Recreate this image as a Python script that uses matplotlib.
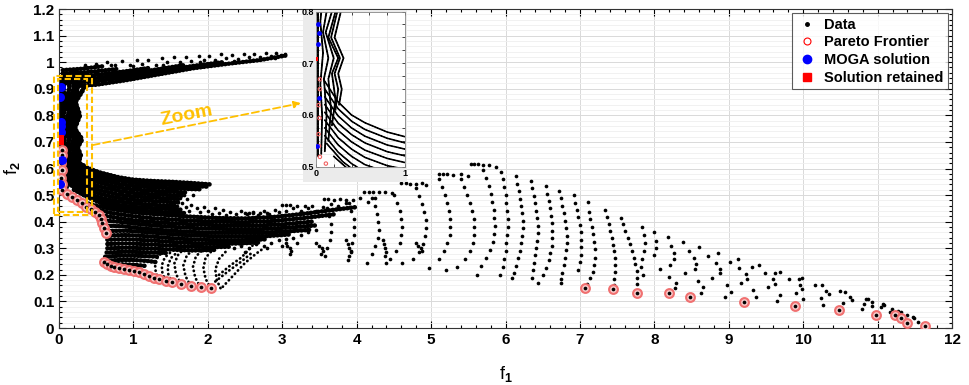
import matplotlib
matplotlib.use('Agg')
import matplotlib.pyplot as plt
from matplotlib.patches import Rectangle
from matplotlib.lines import Line2D
from matplotlib.ticker import MultipleLocator, FuncFormatter

plt.rcParams['font.family'] = ['Liberation Sans', 'DejaVu Sans']
plt.rcParams['font.weight'] = 'bold'
plt.rcParams['mathtext.fontset'] = 'custom'
plt.rcParams['mathtext.rm'] = 'Liberation Sans:bold'
plt.rcParams['mathtext.default'] = 'rm'

ORANGE = '#FFC000'

# ---- dense regions, read as strands of closely packed points (x, y) ----
band_strands = [
    [(0.2, 0.91), (0.5, 0.915), (0.9, 0.932), (1.3, 0.952), (1.8, 0.977), (2.3, 0.995), (2.7, 1.008), (3.05, 1.025)],
    [(0.1, 0.922), (0.5, 0.928), (0.9, 0.944), (1.3, 0.962), (1.8, 0.986), (2.2, 1.0)],
    [(0.05, 0.934), (0.5, 0.94), (0.9, 0.955), (1.3, 0.972), (1.7, 0.99)],
    [(0.05, 0.946), (0.5, 0.952), (0.9, 0.966), (1.2, 0.978)],
    [(0.05, 0.958), (0.4, 0.963), (0.8, 0.975)],
    [(0.05, 0.97), (0.3, 0.975), (0.6, 0.985)],
]
band_specks = [(0.35, 0.99), (0.5, 0.995), (0.65, 1.0), (0.75, 0.99), (0.85, 1.003), (0.95, 0.99),
               (1.05, 1.008), (1.12, 0.995), (1.2, 1.01), (1.3, 0.99), (1.38, 1.015), (1.45, 1.0),
               (1.55, 1.018), (1.62, 1.0), (1.7, 1.02), (1.78, 1.005), (1.88, 1.022), (1.95, 1.008),
               (2.02, 1.025), (2.1, 1.01), (2.18, 1.03), (2.25, 1.015), (2.33, 1.028), (2.4, 1.012),
               (2.48, 1.03), (2.55, 1.018), (2.62, 1.032), (2.7, 1.02), (2.78, 1.033), (2.85, 1.022),
               (2.92, 1.035), (2.98, 1.028), (3.03, 1.032), (1.0, 0.985), (1.4, 0.99), (1.9, 1.0),
               (2.35, 1.005), (2.6, 1.01), (2.9, 1.015), (0.7, 0.99)]

column_strands = [
    [(0.02, 0.52), (0.02, 0.95)],
    [(0.06, 0.525), (0.07, 0.6), (0.05, 0.66), (0.08, 0.72), (0.05, 0.78), (0.08, 0.84), (0.06, 0.9), (0.08, 0.95)],
    [(0.1, 0.53), (0.12, 0.6), (0.09, 0.67), (0.14, 0.71), (0.08, 0.76), (0.13, 0.81), (0.09, 0.86), (0.14, 0.9), (0.14, 0.94)],
    [(0.14, 0.55), (0.17, 0.61), (0.14, 0.67), (0.2, 0.71), (0.11, 0.76), (0.18, 0.8), (0.13, 0.86), (0.2, 0.9), (0.2, 0.93)],
    [(0.18, 0.58), (0.22, 0.63), (0.18, 0.68), (0.25, 0.71), (0.14, 0.75), (0.22, 0.8), (0.16, 0.86), (0.25, 0.9), (0.27, 0.92)],
    [(0.22, 0.61), (0.25, 0.65), (0.21, 0.68), (0.27, 0.71), (0.17, 0.75), (0.24, 0.8), (0.18, 0.85), (0.27, 0.89)],
    [(0.26, 0.62), (0.29, 0.65), (0.25, 0.68), (0.31, 0.71), (0.21, 0.75), (0.28, 0.8), (0.22, 0.85), (0.31, 0.89), (0.35, 0.915)],
]

fan_strands = [
    [(0.1, 0.665), (0.25, 0.625), (0.4, 0.6), (0.55, 0.585), (0.8, 0.567), (1.0, 0.558), (1.25, 0.553), (1.5, 0.55), (1.75, 0.546), (2.04, 0.54)],
    [(0.1, 0.65), (0.25, 0.612), (0.4, 0.588), (0.55, 0.572), (0.8, 0.555), (1.0, 0.546), (1.25, 0.541), (1.5, 0.538), (1.75, 0.535), (1.98, 0.532)],
    [(0.1, 0.635), (0.25, 0.598), (0.4, 0.575), (0.55, 0.559), (0.8, 0.542), (1.0, 0.534), (1.25, 0.529), (1.5, 0.526), (1.75, 0.523), (1.9, 0.522)],
    [(0.1, 0.62), (0.25, 0.584), (0.4, 0.562), (0.55, 0.546), (0.8, 0.529), (1.0, 0.521), (1.25, 0.516), (1.5, 0.513), (1.7, 0.51)],
    [(0.1, 0.605), (0.25, 0.57), (0.4, 0.548), (0.55, 0.532), (0.8, 0.516), (1.0, 0.508), (1.25, 0.503), (1.5, 0.5), (1.65, 0.498)],
    [(0.1, 0.59), (0.25, 0.556), (0.4, 0.534), (0.55, 0.518), (0.8, 0.502), (1.0, 0.495), (1.3, 0.49), (1.6, 0.485)],
    [(0.1, 0.575), (0.25, 0.542), (0.4, 0.52), (0.55, 0.504), (0.8, 0.489), (1.0, 0.482), (1.3, 0.477), (1.6, 0.472)],
    [(0.1, 0.56), (0.25, 0.528), (0.4, 0.506), (0.55, 0.49), (0.8, 0.476), (1.0, 0.469), (1.3, 0.463), (1.6, 0.458)],
    [(0.12, 0.545), (0.3, 0.51), (0.45, 0.49), (0.6, 0.476), (0.8, 0.463), (1.0, 0.456), (1.3, 0.45), (1.65, 0.445)],
    [(0.2, 0.52), (0.35, 0.497), (0.5, 0.477), (0.65, 0.462), (0.85, 0.45), (1.1, 0.442), (1.4, 0.436), (1.7, 0.432)],
]

mid_strands = [
    [(0.3, 0.475), (0.5, 0.46), (0.7, 0.448), (1.0, 0.435), (1.3, 0.428), (1.7, 0.42), (2.1, 0.414), (2.5, 0.412), (2.9, 0.418), (3.3, 0.43), (3.7, 0.445), (4.0, 0.455)],
    [(0.45, 0.45), (0.7, 0.433), (1.0, 0.42), (1.3, 0.412), (1.7, 0.405), (2.1, 0.4), (2.5, 0.398), (2.9, 0.403), (3.3, 0.414), (3.7, 0.428)],
    [(0.54, 0.425), (0.75, 0.416), (1.0, 0.405), (1.4, 0.396), (1.8, 0.39), (2.2, 0.386), (2.6, 0.385), (3.0, 0.39), (3.4, 0.4)],
    [(0.58, 0.405), (0.8, 0.4), (1.1, 0.39), (1.5, 0.381), (1.9, 0.375), (2.3, 0.372), (2.7, 0.372), (3.1, 0.378), (3.45, 0.386)],
    [(0.6, 0.385), (0.85, 0.383), (1.1, 0.375), (1.5, 0.366), (1.9, 0.36), (2.3, 0.358), (2.7, 0.358), (3.1, 0.364), (3.4, 0.37)],
    [(0.62, 0.365), (0.9, 0.366), (1.2, 0.36), (1.6, 0.351), (2.0, 0.346), (2.4, 0.344), (2.8, 0.346), (3.1, 0.352)],
    [(0.64, 0.348), (0.9, 0.35), (1.2, 0.345), (1.6, 0.336), (2.0, 0.331), (2.4, 0.33), (2.8, 0.334)],
    [(0.65, 0.332), (0.9, 0.334), (1.2, 0.33), (1.6, 0.322), (2.0, 0.317), (2.4, 0.318), (2.7, 0.322)],
    [(0.65, 0.316), (0.9, 0.318), (1.2, 0.315), (1.6, 0.308), (2.0, 0.304), (2.3, 0.306)],
    [(0.65, 0.3), (0.9, 0.302), (1.2, 0.3), (1.5, 0.295), (1.8, 0.292), (2.1, 0.294)],
    [(0.64, 0.284), (0.9, 0.287), (1.2, 0.285), (1.45, 0.282)],
    [(0.62, 0.268), (0.8, 0.272), (1.0, 0.272), (1.2, 0.27), (1.35, 0.268)],
    [(0.6, 0.252), (0.8, 0.256), (1.0, 0.256), (1.2, 0.252), (1.3, 0.248)],
    [(0.65, 0.24), (0.8, 0.24), (1.0, 0.238), (1.15, 0.234)],
    [(0.7, 0.228), (0.85, 0.226), (1.0, 0.222), (1.1, 0.218)],
]

s_curves = [
    [(1.34, 0.184), (1.3, 0.21), (1.29, 0.24), (1.33, 0.27), (1.42, 0.29)],
    [(1.43, 0.178), (1.39, 0.205), (1.38, 0.235), (1.42, 0.265), (1.52, 0.29)],
    [(1.52, 0.172), (1.47, 0.2), (1.46, 0.23), (1.5, 0.262), (1.6, 0.288)],
    [(1.64, 0.165), (1.57, 0.205), (1.55, 0.243), (1.61, 0.281), (1.75, 0.306)],
    [(1.77, 0.158), (1.7, 0.195), (1.67, 0.235), (1.72, 0.275), (1.85, 0.3)],
    [(1.9, 0.153), (1.83, 0.19), (1.8, 0.23), (1.84, 0.27), (1.95, 0.298)],
    [(2.04, 0.149), (1.97, 0.185), (1.94, 0.225), (1.97, 0.265), (2.07, 0.295)],
    [(2.17, 0.15), (2.12, 0.18), (2.1, 0.22), (2.15, 0.26), (2.25, 0.29)],
    [(2.2, 0.155), (2.35, 0.2), (2.5, 0.245), (2.65, 0.28), (2.75, 0.3)],
    [(2.1, 0.175), (2.28, 0.215), (2.45, 0.25), (2.6, 0.285)],
    [(2.15, 0.2), (2.3, 0.235), (2.45, 0.265), (2.6, 0.31)],
]

mid_specks = [(1.65, 0.47), (1.7, 0.455), (1.75, 0.44), (1.78, 0.462), (1.85, 0.45), (1.9, 0.435),
              (1.95, 0.455), (2.0, 0.442), (2.05, 0.43), (2.1, 0.45), (2.15, 0.432), (2.2, 0.444),
              (2.25, 0.425), (2.3, 0.438), (2.38, 0.43), (2.45, 0.44), (2.52, 0.428), (2.6, 0.437),
              (2.68, 0.425), (2.75, 0.44), (2.82, 0.43), (2.9, 0.445), (2.95, 0.435), (3.05, 0.44),
              (3.15, 0.45), (3.25, 0.44), (3.35, 0.45), (3.45, 0.44), (3.55, 0.455), (3.65, 0.465),
              (3.75, 0.46), (3.85, 0.47), (3.95, 0.48), (4.05, 0.49), (4.15, 0.475), (4.25, 0.49),
              (2.35, 0.3), (2.45, 0.31), (2.55, 0.3), (2.65, 0.315), (2.75, 0.31), (2.85, 0.32),
              (2.95, 0.33), (3.05, 0.335), (3.15, 0.34), (3.25, 0.35), (3.35, 0.36), (3.45, 0.37),
              (2.5, 0.285), (2.8, 0.3), (3.0, 0.31), (3.2, 0.32), (1.62, 0.49), (1.68, 0.5),
              (1.72, 0.485), (1.8, 0.5), (1.58, 0.46), (2.5, 0.433), (2.55, 0.433), (2.6, 0.432),
              (2.7, 0.432), (2.8, 0.433)]

# ---- sparse region, point by point ----
stair_pts = [(3.0, 0.462), (3.05, 0.462), (3.1, 0.461), (3.2, 0.46), (3.3, 0.46), (3.4, 0.459),
             (3.56, 0.484), (3.62, 0.484), (3.7, 0.483), (3.78, 0.484), (3.85, 0.482),
             (4.1, 0.512), (4.16, 0.512), (4.22, 0.511), (4.3, 0.51), (4.38, 0.512), (4.48, 0.508),
             (4.6, 0.544), (4.66, 0.544), (4.72, 0.542), (4.8, 0.54), (4.88, 0.544), (4.93, 0.538),
             (5.1, 0.579), (5.16, 0.58), (5.22, 0.578), (5.3, 0.575), (5.4, 0.578), (5.49, 0.572),
             (5.53, 0.617), (5.58, 0.618), (5.63, 0.617), (5.7, 0.615), (5.78, 0.612), (5.87, 0.607)]

squiggle_pts = [(3.05, 0.32), (3.07, 0.31), (3.1, 0.3), (3.12, 0.29), (3.1, 0.28), (3.45, 0.32),
                (3.5, 0.31), (3.53, 0.3), (3.55, 0.29), (3.52, 0.28), (3.85, 0.33), (3.88, 0.315),
                (3.9, 0.3), (3.92, 0.285), (3.9, 0.27), (3.88, 0.255), (4.35, 0.33), (4.37, 0.315),
                (4.38, 0.3), (4.4, 0.285), (4.38, 0.27), (4.8, 0.32), (4.83, 0.31), (4.86, 0.3),
                (4.88, 0.29)]

left_cols = [
    [(3.6, 0.45), (3.63, 0.42), (3.65, 0.39), (3.66, 0.36), (3.64, 0.33), (3.6, 0.3), (3.58, 0.27)],
    [(3.9, 0.47), (3.93, 0.44), (3.96, 0.41), (3.97, 0.38), (3.96, 0.35), (3.94, 0.32), (3.92, 0.29)],
    [(4.2, 0.49), (4.24, 0.46), (4.27, 0.43), (4.29, 0.4), (4.3, 0.37), (4.28, 0.34), (4.25, 0.31), (4.2, 0.28), (4.14, 0.245)],
    [(4.5, 0.5), (4.54, 0.47), (4.58, 0.44), (4.6, 0.41), (4.61, 0.38), (4.6, 0.35), (4.58, 0.32), (4.53, 0.29), (4.45, 0.26), (4.39, 0.243)],
    [(4.8, 0.525), (4.84, 0.495), (4.88, 0.465), (4.91, 0.435), (4.93, 0.405), (4.93, 0.375), (4.92, 0.345), (4.89, 0.315), (4.84, 0.285), (4.75, 0.26), (4.61, 0.243)],
    [(5.1, 0.56), (5.14, 0.53), (5.18, 0.5), (5.21, 0.47), (5.24, 0.44), (5.25, 0.41), (5.26, 0.38), (5.25, 0.35), (5.22, 0.32), (5.17, 0.29), (5.1, 0.26), (4.97, 0.224)],
    [(5.4, 0.56), (5.44, 0.53), (5.48, 0.5), (5.52, 0.47), (5.55, 0.44), (5.57, 0.41), (5.58, 0.38), (5.58, 0.35), (5.56, 0.32), (5.52, 0.29), (5.46, 0.26), (5.35, 0.23), (5.2, 0.218)],
    [(5.7, 0.595), (5.74, 0.565), (5.78, 0.535), (5.8, 0.505), (5.82, 0.475), (5.84, 0.445), (5.85, 0.415), (5.86, 0.385), (5.85, 0.355), (5.83, 0.325), (5.79, 0.295), (5.74, 0.265), (5.67, 0.235), (5.62, 0.199)],
]

mid_cols = [
    [(5.94, 0.588), (5.96, 0.56), (5.98, 0.53), (6.0, 0.5), (6.01, 0.47), (6.02, 0.44), (6.03, 0.41), (6.03, 0.38), (6.02, 0.35), (6.01, 0.32), (6.0, 0.29), (5.98, 0.26), (5.96, 0.23), (5.92, 0.2)],
    [(6.14, 0.571), (6.16, 0.543), (6.18, 0.515), (6.2, 0.487), (6.21, 0.459), (6.22, 0.431), (6.23, 0.403), (6.23, 0.375), (6.22, 0.347), (6.21, 0.319), (6.19, 0.291), (6.17, 0.263), (6.14, 0.235), (6.11, 0.207), (6.09, 0.187)],
    [(6.34, 0.553), (6.36, 0.525), (6.38, 0.497), (6.4, 0.469), (6.41, 0.441), (6.42, 0.413), (6.43, 0.385), (6.43, 0.357), (6.42, 0.329), (6.41, 0.301), (6.39, 0.273), (6.38, 0.245), (6.37, 0.217), (6.36, 0.19)],
    [(6.54, 0.534), (6.56, 0.506), (6.58, 0.478), (6.6, 0.45), (6.61, 0.422), (6.62, 0.394), (6.63, 0.366), (6.63, 0.338), (6.62, 0.31), (6.6, 0.282), (6.58, 0.254), (6.55, 0.226), (6.5, 0.198), (6.43, 0.168)],
    [(6.72, 0.516), (6.74, 0.488), (6.76, 0.46), (6.78, 0.432), (6.8, 0.404), (6.81, 0.376), (6.82, 0.348), (6.82, 0.32), (6.81, 0.292), (6.8, 0.264), (6.78, 0.236), (6.76, 0.208), (6.75, 0.185), (6.74, 0.168)],
    [(6.92, 0.5), (6.94, 0.472), (6.96, 0.444), (6.98, 0.416), (7.0, 0.388), (7.01, 0.36), (7.02, 0.332), (7.02, 0.304), (7.01, 0.276), (7.0, 0.248), (6.98, 0.22)],
    [(7.11, 0.475), (7.12, 0.435), (7.14, 0.409), (7.16, 0.381), (7.18, 0.353), (7.19, 0.324), (7.2, 0.296), (7.2, 0.262), (7.19, 0.237), (7.17, 0.212), (7.14, 0.187), (7.1, 0.165)],
    [(7.33, 0.444), (7.36, 0.418), (7.39, 0.392), (7.41, 0.366), (7.43, 0.34), (7.45, 0.314), (7.46, 0.288), (7.47, 0.262), (7.47, 0.236), (7.47, 0.21), (7.46, 0.185), (7.46, 0.163)],
    [(7.55, 0.415), (7.58, 0.39), (7.61, 0.365), (7.64, 0.34), (7.67, 0.315), (7.7, 0.29), (7.72, 0.265), (7.74, 0.24), (7.76, 0.215), (7.77, 0.19), (7.77, 0.165)],
    [(7.84, 0.379), (7.86, 0.35), (7.87, 0.32), (7.86, 0.29), (7.84, 0.26), (7.82, 0.23), (7.85, 0.2)],
]

right_pts = [(7.99, 0.362), (8.02, 0.328), (8.02, 0.3), (7.99, 0.274), (8.07, 0.222),
             (8.18, 0.343), (8.22, 0.309), (8.27, 0.281), (8.27, 0.258), (8.21, 0.237), (8.2, 0.193), (8.29, 0.17), (8.28, 0.149),
             (8.38, 0.322), (8.46, 0.291), (8.53, 0.262), (8.56, 0.239), (8.54, 0.221), (8.41, 0.206), (8.58, 0.178), (8.66, 0.153), (8.63, 0.133),
             (8.6, 0.303), (8.72, 0.272), (8.83, 0.243), (8.86, 0.281), (8.88, 0.221), (8.88, 0.206), (8.78, 0.189), (8.97, 0.162), (8.95, 0.115), (9.03, 0.137), (9.01, 0.249),
             (9.13, 0.258), (9.14, 0.224), (9.16, 0.17), (9.23, 0.203), (9.25, 0.184), (9.31, 0.228), (9.33, 0.143), (9.36, 0.118),
             (9.4, 0.237), (9.48, 0.206), (9.53, 0.153), (9.6, 0.183), (9.62, 0.165), (9.62, 0.208), (9.69, 0.212), (9.69, 0.124), (9.65, 0.102),
             (9.81, 0.183), (9.9, 0.133), (9.95, 0.183), (9.98, 0.187), (9.96, 0.162), (9.98, 0.145), (10.0, 0.108),
             (10.16, 0.16), (10.25, 0.162), (10.24, 0.114), (10.3, 0.14), (10.34, 0.127), (10.27, 0.085),
             (10.49, 0.139), (10.56, 0.137), (10.54, 0.095), (10.63, 0.118), (10.66, 0.105), (10.79, 0.073),
             (10.84, 0.11), (10.87, 0.108), (10.82, 0.09), (10.93, 0.097), (10.93, 0.083),
             (11.07, 0.09), (11.09, 0.085), (11.04, 0.08), (11.16, 0.061), (11.19, 0.071), (11.31, 0.061),
             (11.28, 0.065), (11.39, 0.049), (11.49, 0.036), (11.47, 0.04), (11.54, 0.024)]

# ---- highlighted solutions ----
pareto_x = [0.045, 0.045, 0.03, 0.04, 0.03, 0.035,
            0.045, 0.112, 0.179, 0.246, 0.313, 0.367, 0.426, 0.484, 0.538, 0.56, 0.582, 0.605, 0.627,
            0.605, 0.65, 0.695, 0.739, 0.806, 0.874, 0.941, 1.008, 1.075, 1.142, 1.21, 1.277, 1.344,
            1.434, 1.523, 1.636, 1.77, 1.905, 2.039,
            7.07, 7.45, 7.76, 8.2, 8.48, 9.21, 9.89, 10.48, 10.98, 11.24, 11.32, 11.39, 11.63]
pareto_y = [0.669, 0.65, 0.619, 0.594, 0.563, 0.54,
            0.519, 0.506, 0.494, 0.481, 0.469, 0.456, 0.447, 0.437, 0.425, 0.409, 0.394, 0.375, 0.356,
            0.249, 0.241, 0.234, 0.23, 0.224, 0.221, 0.218, 0.214, 0.209, 0.203, 0.197, 0.19, 0.184,
            0.178, 0.172, 0.165, 0.158, 0.153, 0.149,
            0.152, 0.147, 0.133, 0.13, 0.115, 0.099, 0.083, 0.068, 0.05, 0.05, 0.036, 0.02, 0.009]
moga_x = [0.02, 0.01, 0.02, 0.03, 0.02, 0.036, 0.01]
moga_y = [0.907, 0.87, 0.776, 0.759, 0.738, 0.632, 0.541]
retained_x = [0.0]
retained_y = [0.709]

x_ticks = list(range(0, 13))
y_ticks = [i / 10 for i in range(0, 13)]


def draw_data(ax, scale=1.0):
    dot = (0, (0.1, 0.7))
    for group, lw in ((band_strands, 3.2), (column_strands, 3.6), (fan_strands, 3.3), (mid_strands, 3.3)):
        for s in group:
            xs, ys = zip(*s)
            ax.plot(xs, ys, color='k', lw=lw * scale, ls=dot, dash_capstyle='round')
    for s in s_curves:
        xs, ys = zip(*s)
        ax.plot(xs, ys, color='k', lw=2.0 * scale, ls=(0, (0.1, 1.5)), dash_capstyle='round')
    pts = band_specks + mid_specks + stair_pts + squiggle_pts + right_pts
    for col in left_cols + mid_cols:
        pts = pts + col
    xs, ys = zip(*pts)
    ax.scatter(xs, ys, s=7 * scale, color='k', lw=0)


fig = plt.figure(figsize=(9.69, 3.85), dpi=100)
ax = fig.add_axes([0.0609, 0.148, 0.9216, 0.8286])

draw_data(ax)
ax.scatter(pareto_x, pareto_y, s=40, facecolors='#f9cccc', edgecolors='#f07070', linewidths=1.5, zorder=3)
ax.scatter(pareto_x, pareto_y, s=7, color='k', lw=0, zorder=3.5)
ax.scatter(moga_x, moga_y, s=42, color='#0000ff', lw=0, zorder=4)
ax.scatter(retained_x, retained_y, s=42, color='#ff0000', marker='s', lw=0, zorder=5)

ax.set_xlim(0, 12)
ax.set_ylim(0, 1.2)
ax.set_xticks(x_ticks)
ax.set_yticks(y_ticks)
ax.xaxis.set_minor_locator(MultipleLocator(0.2))
ax.yaxis.set_minor_locator(MultipleLocator(0.02))
ax.yaxis.set_major_formatter(FuncFormatter(lambda v, p: '%g' % round(v, 2)))
ax.tick_params(which='both', direction='in', top=True, right=True, labelsize=11, width=0.8)
ax.tick_params(which='major', length=5)
ax.tick_params(which='minor', length=2.5)
ax.grid(True, which='major', color='#d9d9d9', lw=0.7)
ax.grid(True, which='minor', axis='y', color='#efefef', lw=0.6)
ax.set_axisbelow(True)
for sp in ax.spines.values():
    sp.set_color('#333333')
ax.set_xlabel('f$_1$', fontsize=13, labelpad=12)
ax.set_ylabel('f$_2$', fontsize=13, labelpad=8)

# zoom frame, arrow and label
for (x0, y0, x1, y1) in ((-0.067, 0.424, 0.44, 0.948), (-0.013, 0.437, 0.38, 0.936)):
    ax.add_patch(Rectangle((x0, y0), x1 - x0, y1 - y0, fill=False, ec=ORANGE, lw=1.5,
                           ls=(0, (3, 1.5)), clip_on=False, zorder=6))
ax.annotate('', xy=(3.25, 0.846), xytext=(0.45, 0.688),
            arrowprops=dict(arrowstyle='-|>', color=ORANGE, lw=1.3, ls=(0, (4, 2)),
                            mutation_scale=10, shrinkA=0, shrinkB=0), zorder=6)
ax.text(1.72, 0.80, 'Zoom', color=ORANGE, fontsize=14, fontweight='bold',
        rotation=11, ha='center', va='center')

handles = [Line2D([], [], ls='none', marker='.', color='k', ms=5),
           Line2D([], [], ls='none', marker='o', mfc='none', mec='#ff0000', ms=5, mew=0.8),
           Line2D([], [], ls='none', marker='o', color='#0000ff', ms=6),
           Line2D([], [], ls='none', marker='s', color='#ff0000', ms=6)]
leg = ax.legend(handles, ['Data', 'Pareto Frontier', 'MOGA solution', 'Solution retained'],
                loc='upper right', frameon=True, fancybox=False,
                borderaxespad=0.3, labelspacing=0.25, handletextpad=0.4, handlelength=1.5,
                borderpad=0.3, prop={'weight': 'bold', 'size': 10.5})
leg.get_frame().set_edgecolor('#333333')
leg.get_frame().set_linewidth(0.8)

# inset
fig.patches.append(Rectangle((0.3127, 0.527), 0.107, 0.447, transform=fig.transFigure,
                             fc='#ebebeb', ec='none', zorder=1))
ins = fig.add_axes([0.326, 0.567, 0.092, 0.403], zorder=2)
draw_data(ins, scale=0.4)
ins.scatter(pareto_x, pareto_y, s=6, facecolors='none', edgecolors='#f26262', linewidths=0.8, zorder=3)
ins.scatter(moga_x, moga_y, s=12, color='#0000ff', lw=0, zorder=4)
ins.scatter(retained_x, retained_y, s=12, color='#ff0000', marker='s', lw=0, zorder=5)
ins.set_xlim(0, 1)
ins.set_ylim(0.5, 0.8)
ins.set_xticks([0, 1])
ins.set_yticks([0.5, 0.6, 0.7, 0.8])
ins.xaxis.set_minor_locator(MultipleLocator(0.2))
ins.yaxis.set_minor_locator(MultipleLocator(0.025))
ins.yaxis.set_major_formatter(FuncFormatter(lambda v, p: '%g' % round(v, 2)))
ins.tick_params(which='both', direction='in', top=True, right=True, labelsize=6.5, pad=1.5,
                length=2, width=0.5)
ins.grid(True, which='both', color='#e4e4e4', lw=0.5)
ins.set_axisbelow(True)
for sp in ins.spines.values():
    sp.set_color('#888888')
    sp.set_linewidth(0.6)

fig.savefig('out.png', dpi=100)
